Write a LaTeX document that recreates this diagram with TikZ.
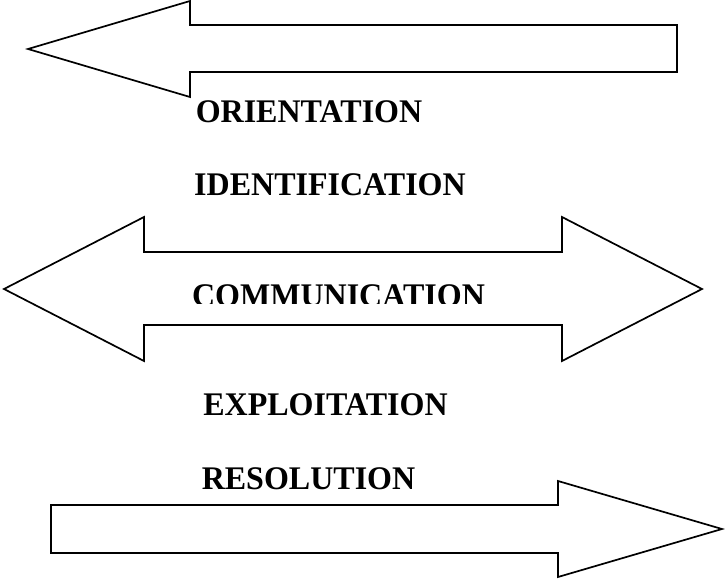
\documentclass[tikz,border=0pt]{standalone}
\usepackage{fontspec}
\setmainfont{Liberation Serif}
\newcommand{\lbltext}[1]{\scalebox{0.97}[1]{#1}}
\begin{document}
\begin{tikzpicture}[x=1pt,y=-1pt,
  arrowshape/.style={draw=black,line width=1.7pt,line join=miter,fill=white},
  lbl/.style={inner sep=0pt,anchor=base,font=\fontsize{33}{33}\selectfont\bfseries}]
\useasboundingbox (0,0) rectangle (725,578);
% top arrow (pointing left)
\draw[arrowshape] (28,49) -- (190,1) -- (190,25) -- (677,25) -- (677,72) -- (190,72) -- (190,97) -- cycle;
% middle double arrow
\draw[arrowshape] (4,289) -- (144,217) -- (144,252) -- (562,252) -- (562,217) -- (702,289) -- (562,361) -- (562,325) -- (144,325) -- (144,361) -- cycle;
% bottom arrow (pointing right)
\draw[arrowshape] (51,505) -- (558,505) -- (558,481) -- (722,529) -- (558,577) -- (558,553) -- (51,553) -- cycle;
% labels
\node[lbl] (orient) at (309,122) {\lbltext{ORIENTATION}};
\node[lbl] (ident) at (330,195) {\lbltext{IDENTIFICATION}};
\begin{scope}
\clip (0,0) rectangle (725,303);
\node[lbl] (comm) at (338.5,306) {\lbltext{COMMUNICATION}};
\end{scope}
\node[lbl] (explo) at (325.5,415) {\lbltext{EXPLOITATION}};
\node[lbl] (resol) at (308.5,489) {\lbltext{RESOLUTION}};
\end{tikzpicture}
\end{document}
